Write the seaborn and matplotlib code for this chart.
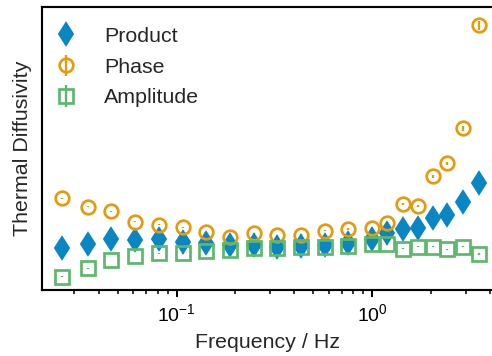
import matplotlib
matplotlib.use("Agg")
import matplotlib.pyplot as plt
import seaborn as sns
import numpy as np

freq = [0.026, 0.0351, 0.046, 0.0613, 0.0813, 0.1074, 0.1413, 0.1875, 0.2477, 0.327,
        0.432, 0.571, 0.754, 1.0, 1.193, 1.43, 1.706, 2.05, 2.42, 2.90, 3.52]
product = [0.417, 0.46, 0.507, 0.5, 0.507, 0.483, 0.467, 0.45, 0.45, 0.433, 0.44,
           0.45, 0.473, 0.507, 0.567, 0.607, 0.617, 0.717, 0.75, 0.883, 1.073]
phase = [0.917, 0.833, 0.787, 0.683, 0.653, 0.627, 0.577, 0.533, 0.567, 0.547, 0.553,
         0.593, 0.61, 0.62, 0.673, 0.857, 0.84, 1.14, 1.267, 1.617, 2.65]
amplitude = [0.133, 0.217, 0.30, 0.34, 0.367, 0.367, 0.393, 0.40, 0.417, 0.417, 0.427,
             0.433, 0.443, 0.46, 0.46, 0.413, 0.433, 0.433, 0.407, 0.433, 0.36]
product_err = [0.004] * 21
phase_err = [0.005, 0.005, 0.005, 0.005, 0.005, 0.005, 0.005, 0.005, 0.006, 0.006, 0.006,
             0.007, 0.007, 0.008, 0.008, 0.01, 0.01, 0.015, 0.015, 0.025, 0.045]
amplitude_err = [0.004, 0.004, 0.004, 0.004, 0.004, 0.004, 0.004, 0.004, 0.004, 0.004, 0.004,
                 0.004, 0.004, 0.005, 0.005, 0.006, 0.006, 0.006, 0.006, 0.006, 0.007]
labels = ["Product", "Phase", "Amplitude"]

sns.set_theme(style="ticks")
plt.rcParams["font.family"] = ["Liberation Sans", "DejaVu Sans"]
plt.rcParams["mathtext.fontset"] = "dejavusans"

colors = ["#0a86c2", "#e69a0e", "#5cb86a"]

fig = plt.figure(figsize=(492 / 140, 356 / 140), dpi=140)
ax = fig.add_axes([42 / 492, 66 / 356, (494 - 42) / 492, (290 - 7) / 356])

ax.errorbar(freq, product, yerr=product_err, fmt="d", ms=8.3, color=colors[0],
            ecolor=colors[0], elinewidth=1.2, capsize=0, label=labels[0])
ax.errorbar(freq, phase, yerr=phase_err, fmt="o", ms=7.0, mfc="none", mec=colors[1], mew=1.4,
            color=colors[1], ecolor=colors[1], elinewidth=1.2, capsize=0, label=labels[1])
ax.errorbar(freq, amplitude, yerr=amplitude_err, fmt="s", ms=7.0, mfc="none", mec=colors[2], mew=1.4,
            color=colors[2], ecolor=colors[2], elinewidth=1.2, capsize=0, label=labels[2])

ax.set_xscale("log")
ax.set_xlim(0.02052, 4.19)
ax.set_ylim(0, 2.83)
ax.set_yticks([])
for s in ax.spines.values():
    s.set_linewidth(1.1)
    s.set_color("black")
ax.tick_params(axis="x", which="major", length=3.6, width=1.0, labelsize=10, pad=3, colors="black")
ax.tick_params(axis="x", which="minor", length=2.2, width=0.8, colors="black")
ax.set_xlabel("Frequency / Hz", fontsize=11, labelpad=4.5)
ax.set_ylabel("Thermal Diffusivity", fontsize=11, labelpad=5)

ax.legend(loc="upper left", bbox_to_anchor=(0.0097, 0.9597), frameon=False, fontsize=11,
          handlelength=1.0, handletextpad=1.3, labelspacing=0.55, borderaxespad=0.0, numpoints=1)

fig.savefig("out.png", dpi=140)
